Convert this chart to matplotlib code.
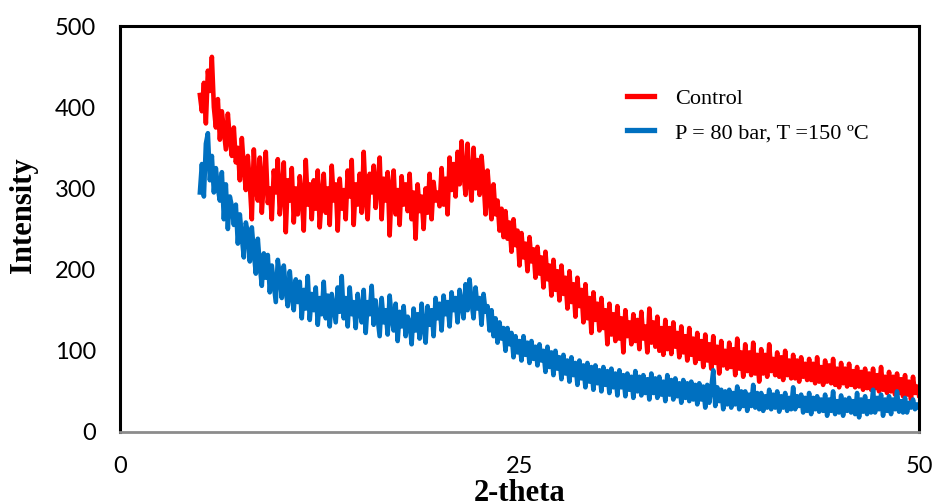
import numpy as np
import matplotlib
matplotlib.use('Agg')
import matplotlib.pyplot as plt

# intensity readings every 0.125 deg from 5 to 50 (2-theta), one row per degree
control = [
    415,
    395, 430, 380, 445, 420, 462, 400, 375,
    410, 360, 395, 372, 348, 392, 360, 340,
    375, 332, 350, 310, 362, 325, 298, 340,
    305, 262, 348, 300, 285, 338, 270, 310,
    345, 282, 300, 262, 322, 295, 336, 268,
    298, 332, 246, 310, 285, 325, 258, 300,
    268, 315, 290, 248, 335, 280, 305, 262,
    310, 275, 322, 252, 290, 318, 270, 300,
    255, 328, 285, 305, 248, 312, 275, 298,
    262, 322, 290, 335, 255, 305, 280, 318,
    270, 345, 288, 262, 318, 295, 328, 276,
    305, 338, 262, 312, 285, 320, 242, 300,
    322, 268, 298, 255, 315, 280, 305, 272,
    318, 262, 295, 238, 305, 272, 290, 250,
    300, 270, 318, 262, 308, 285, 295, 278,
    325, 280, 312, 268, 338, 298, 330, 290,
    345, 305, 358, 318, 292, 355, 310, 285,
    350, 300, 335, 292, 340, 310, 268, 322,
    290, 262, 305, 268, 285, 248, 275, 240,
    272, 238, 258, 222, 262, 230, 248, 205,
    245, 215, 232, 198, 240, 210, 225, 190,
    228, 195, 215, 178, 222, 188, 205, 168,
    212, 175, 198, 162, 205, 170, 190, 152,
    198, 160, 182, 142, 190, 155, 175, 135,
    182, 140, 165, 122, 172, 138, 158, 125,
    165, 128, 150, 108, 158, 120, 145, 112,
    155, 115, 140, 98, 150, 118, 135, 108,
    145, 112, 138, 102, 148, 115, 130, 98,
    152, 110, 135, 105, 142, 100, 128, 95,
    138, 102, 128, 96, 135, 105, 122, 92,
    130, 98, 118, 88, 128, 95, 115, 85,
    122, 90, 112, 80, 120, 88, 108, 78,
    118, 85, 105, 72, 112, 82, 100, 78,
    110, 80, 102, 70, 115, 78, 98, 68,
    108, 75, 98, 70, 110, 72, 95, 62,
    102, 72, 95, 68, 108, 75, 90, 70,
    98, 68, 92, 64, 100, 70, 88, 66,
    95, 66, 88, 62, 92, 68, 84, 64,
    90, 64, 84, 60, 92, 62, 80, 58,
    88, 62, 82, 60, 90, 58, 78, 55,
    85, 60, 78, 56, 84, 58, 75, 55,
    80, 56, 74, 52, 78, 54, 72, 52,
    78, 54, 70, 50, 80, 52, 68, 48,
    74, 50, 68, 46, 72, 48, 65, 44,
    70, 46, 62, 40, 68, 48, 56, 45,
]

treated = [
    295,
    330, 290, 355, 368, 310, 340, 295, 325,
    300, 285, 320, 262, 305, 250, 290, 278,
    255, 280, 232, 268, 240, 215, 258, 245,
    210, 252, 222, 195, 238, 205, 180, 220,
    190, 218, 172, 205, 182, 160, 212, 192,
    165, 205, 175, 155, 198, 168, 150, 188,
    160, 185, 140, 175, 152, 192, 138, 170,
    150, 178, 132, 165, 145, 185, 140, 168,
    130, 170, 152, 135, 178, 148, 192, 140,
    165, 130, 178, 145, 160, 128, 170, 150,
    135, 175, 122, 160, 145, 180, 132, 162,
    140, 118, 165, 135, 150, 120, 168, 140,
    125, 158, 112, 148, 130, 155, 118, 142,
    135, 108, 152, 125, 145, 115, 158, 130,
    110, 155, 132, 150, 118, 165, 140, 158,
    125, 168, 145, 160, 130, 172, 150, 165,
    135, 175, 158, 140, 182, 150, 188, 160,
    140, 178, 152, 165, 132, 170, 148, 155,
    125, 150, 118, 140, 110, 135, 115, 128,
    100, 128, 108, 122, 92, 118, 98, 112,
    88, 118, 95, 110, 85, 112, 90, 105,
    82, 108, 88, 100, 74, 105, 80, 98,
    70, 100, 78, 92, 65, 95, 72, 88,
    62, 92, 70, 85, 58, 88, 66, 82,
    55, 85, 62, 80, 52, 82, 60, 76,
    50, 80, 58, 75, 48, 78, 55, 72,
    45, 76, 55, 70, 44, 72, 52, 68,
    42, 75, 50, 68, 45, 70, 48, 65,
    40, 72, 48, 66, 42, 68, 46, 62,
    38, 70, 46, 64, 40, 66, 44, 60,
    36, 64, 42, 60, 38, 62, 40, 58,
    34, 60, 40, 56, 30, 58, 36, 54,
    76, 32, 55, 38, 52, 28, 50, 34,
    52, 30, 48, 34, 56, 28, 50, 32,
    50, 26, 46, 32, 58, 30, 48, 28,
    48, 26, 44, 30, 52, 28, 46, 30,
    50, 25, 44, 30, 48, 26, 42, 28,
    55, 28, 44, 32, 46, 24, 42, 26,
    48, 22, 42, 28, 44, 25, 40, 26,
    46, 20, 40, 26, 50, 22, 38, 24,
    45, 20, 40, 26, 42, 24, 38, 22,
    48, 18, 40, 25, 44, 22, 38, 24,
    52, 24, 42, 28, 46, 20, 40, 26,
    44, 22, 40, 28, 50, 25, 38, 24,
    42, 24, 36, 30, 40, 28, 34, 30,
]

two_theta = np.linspace(5, 50, len(control))

fig = plt.figure(figsize=(9.33, 5.04), dpi=100)
ax = fig.add_axes([0.1286, 0.1429, 0.8564, 0.8055])

ax.plot(two_theta, control, color='#FF0000', lw=3.3, label='Control')
ax.plot(two_theta, treated, color='#0070C0', lw=3.3, label='P = 80 bar, T =150 ºC')

ax.set_xlim(0, 50)
ax.set_ylim(0, 500)
ax.set_xticks([0, 25, 50])
ax.set_yticks([0, 100, 200, 300, 400, 500])
ax.tick_params(length=0, labelsize=17)
ax.tick_params(axis='y', pad=17)
ax.tick_params(axis='x', pad=17)
for lab in ax.get_xticklabels() + ax.get_yticklabels():
    lab.set_family('Lato')

for side in ['left', 'top', 'right']:
    ax.spines[side].set_linewidth(2.2)
    ax.spines[side].set_color('black')
ax.spines['bottom'].set_linewidth(2)
ax.spines['bottom'].set_color('#8c8c8c')

ax.set_xlabel('2-theta', family='Liberation Serif', fontweight='bold', fontsize=22, labelpad=2)
ax.set_ylabel('Intensity', family='Liberation Serif', fontweight='bold', fontsize=22)
ax.yaxis.set_label_coords(-0.103, 0.535)

leg = ax.legend(loc='upper left', bbox_to_anchor=(0.61, 0.895), frameon=False,
                prop={'family': 'Liberation Serif', 'size': 16},
                handlelength=1.2, handletextpad=0.95, labelspacing=0.6)
for line in leg.get_lines():
    line.set_linewidth(3.8)

fig.savefig('out.png', dpi=100)
